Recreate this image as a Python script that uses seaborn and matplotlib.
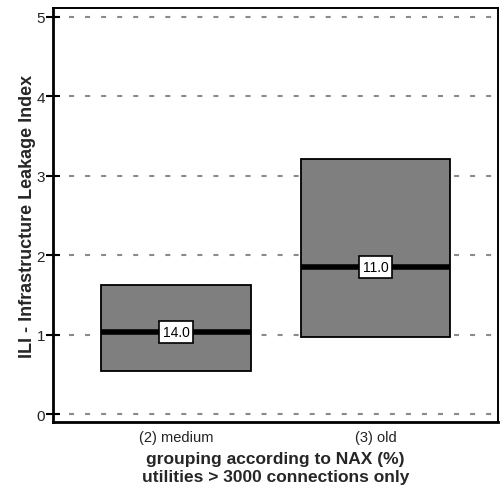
import matplotlib
matplotlib.use("Agg")
import matplotlib.pyplot as plt
import seaborn as sns
import pandas as pd

# Box summary per NAX group
groups = ["(2) medium", "(3) old"]
q1 = [0.545, 0.97]
medians = [1.036, 1.85]
q3 = [1.628, 3.21]
counts = ["14.0", "11.0"]
y_ticks = [0, 1, 2, 3, 4, 5]

sns.set_theme(style="white")
plt.rcParams["font.family"] = ["Liberation Sans", "DejaVu Sans"]

# five-point sample per group whose quartiles equal the box summary
rows = []
for g, a, m, b in zip(groups, q1, medians, q3):
    for v in (a, a, m, b, b):
        rows.append({"group": g, "ili": v})
df = pd.DataFrame(rows)

fig = plt.figure(figsize=(5.0, 4.89), dpi=100)
ax = fig.add_axes([0.106, 0.135, 0.89, 0.8456])

sns.boxplot(
    data=df, x="group", y="ili", order=groups, ax=ax,
    width=0.75, whis=0, showcaps=False, showfliers=False,
    color="#7f7f7f", saturation=1,
    boxprops=dict(facecolor="#7f7f7f", edgecolor="black", linewidth=1.3),
    medianprops=dict(color="black", linewidth=4),
    whiskerprops=dict(linewidth=0),
    zorder=3,
)

for i, (m, c) in enumerate(zip(medians, counts)):
    ax.text(i, m, c, ha="center", va="center", fontsize=10, color="black",
            zorder=5,
            bbox=dict(boxstyle="square,pad=0.28", facecolor="white",
                      edgecolor="black", linewidth=1.2))

ax.set_ylim(-0.1, 5.107)
ax.set_xlim(-0.617, 1.614)
ax.set_yticks(y_ticks)
ax.set_yticklabels([str(t) for t in y_ticks])
ax.yaxis.grid(True, linestyle=(0, (2.4, 5.3)), color="#8a8a8a", linewidth=1.5)
ax.set_axisbelow(True)

ax.tick_params(axis="y", direction="inout", length=9.5, width=1.5,
               labelsize=11, pad=1, left=True, colors="black")
ax.tick_params(axis="x", length=0, labelsize=10.5, pad=6)
for lbl in ax.get_xticklabels() + ax.get_yticklabels():
    lbl.set_color("#222222")

for side in ["left", "bottom"]:
    ax.spines[side].set_linewidth(2.0)
for side in ["top", "right"]:
    ax.spines[side].set_linewidth(1.4)
for s in ax.spines.values():
    s.set_color("black")

ax.set_xlabel("grouping according to NAX (%)\nutilities > 3000 connections only",
              fontsize=12.5, fontweight="bold", linespacing=1.2, va="top")
ax.xaxis.set_label_coords(0.5, -0.071)
ax.set_ylabel("ILI - Infrastructure Leakage Index", fontsize=13,
              fontweight="bold", va="center")
ax.yaxis.set_label_coords(-0.058, 0.5)

fig.savefig("out.png", dpi=100)
